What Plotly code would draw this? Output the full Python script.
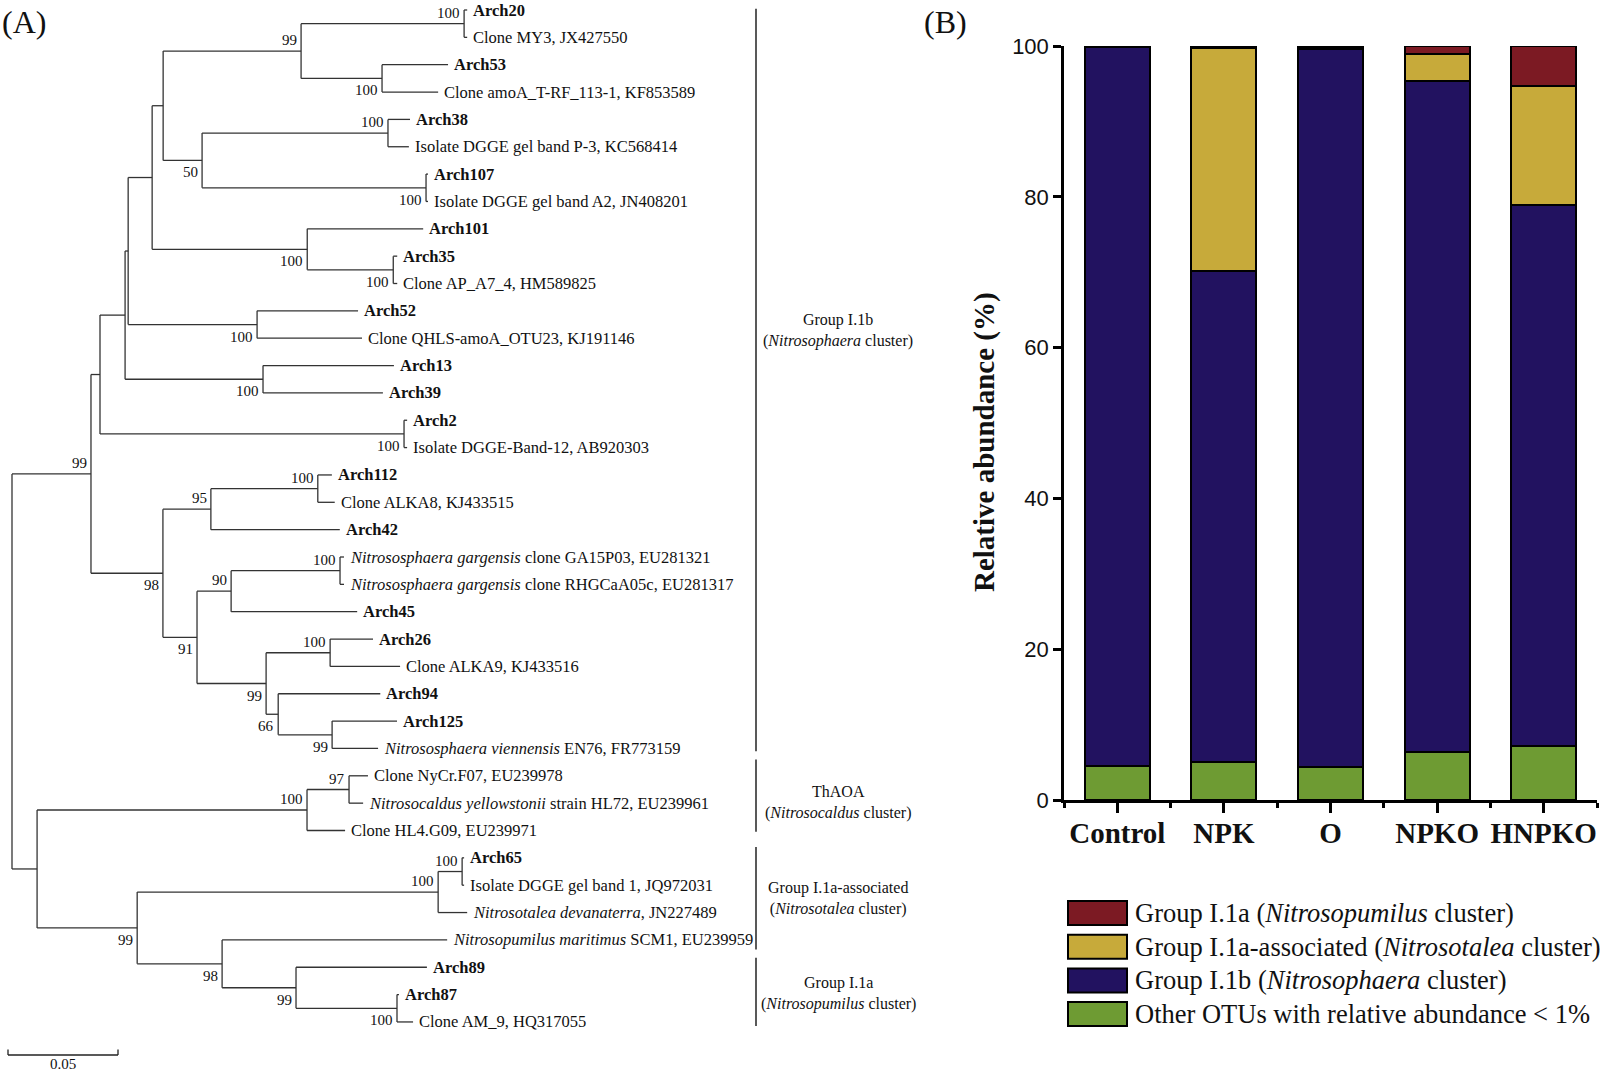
import plotly.graph_objects as go

# ---------------- data: panel A (phylogenetic tree) ----------------
TREE_NEWICK = (
    "(((((((((Arch20:0.0014,MY3:0.0014)100:0.0741,(Arch53:0.0300,amoA:0.0255)100:0.0368)99:0.0627,"
    "((Arch38:0.0100,P3:0.0095)100:0.0845,(Arch107:0.0009,A2:0.0009)100:0.1018)50:0.0177):0.0050,"
    "(Arch101:0.0527,(Arch35:0.0018,AP:0.0018)100:0.0391)100:0.0705):0.0109,"
    "(Arch52:0.0459,QHLS:0.0477)100:0.0586):0.0014,"
    "(Arch13:0.0595,Arch39:0.0545)100:0.0627):0.0114,"
    "(Arch2:0.0014,B12:0.0014)100:0.1382):0.0041,"
    "(((Arch112:0.0064,ALKA8:0.0077)100:0.0486,Arch42:0.0586)95:0.0218,"
    "(((GA15:0.0018,RHG:0.0018)100:0.0495,Arch45:0.0573)90:0.0155,"
    "((Arch26:0.0195,ALKA9:0.0318)100:0.0291,(Arch94:0.0464,(Arch125:0.0295,Nvien:0.0209)99:0.0245)66:0.0055)99:0.0314)91:0.0155)98:0.0327)99:0.0359,"
    "(((NyCr:0.0086,Nyel:0.0064)97:0.0191,HL4:0.0173)100:0.1227,"
    "(((Arch65:0.0009,band1:0.0009)100:0.0109,Ndev:0.0132)100:0.1368,"
    "(Nmar:0.1023,(Arch89:0.0595,(Arch87:0.0009,AM9:0.0073)100:0.0459)99:0.0336)98:0.0386)99:0.0455):0.0114);"
)

TIP_LABELS = {
    "MY3": "Clone MY3, JX427550",
    "amoA": "Clone amoA_T-RF_113-1, KF853589",
    "P3": "Isolate DGGE gel band P-3, KC568414",
    "A2": "Isolate DGGE gel band A2, JN408201",
    "AP": "Clone AP_A7_4, HM589825",
    "QHLS": "Clone QHLS-amoA_OTU23, KJ191146",
    "B12": "Isolate DGGE-Band-12, AB920303",
    "ALKA8": "Clone ALKA8, KJ433515",
    "GA15": "<i>Nitrososphaera gargensis</i> clone GA15P03, EU281321",
    "RHG": "<i>Nitrososphaera gargensis</i> clone RHGCaA05c, EU281317",
    "ALKA9": "Clone ALKA9, KJ433516",
    "Nvien": "<i>Nitrososphaera viennensis</i> EN76, FR773159",
    "NyCr": "Clone NyCr.F07, EU239978",
    "Nyel": "<i>Nitrosocaldus yellowstonii</i> strain HL72, EU239961",
    "HL4": "Clone HL4.G09, EU239971",
    "band1": "Isolate DGGE gel band 1, JQ972031",
    "Ndev": "<i>Nitrosotalea devanaterra</i>, JN227489",
    "Nmar": "<i>Nitrosopumilus maritimus</i> SCM1, EU239959",
    "AM9": "Clone AM_9, HQ317055",
}

# placement of bootstrap values (preorder of labelled nodes): a = above, b = below
BOOT_SIDE = "a a a b b a b b b b b b b a a b a a b a b b a a b a a b b b".split()

CLADE_NAMES = ["Group I.1b<br>(<i>Nitrosophaera</i> cluster)",
               "ThAOA<br>(<i>Nitrosocaldus</i> cluster)",
               "Group I.1a-associated<br>(<i>Nitrosotalea</i> cluster)",
               "Group I.1a<br>(<i>Nitrosopumilus</i> cluster)"]
CLADE_ROWS = [(-0.05, 27.1), (27.4, 30.05), (30.6, 34.35), (34.65, 37.15)]
CLADE_LABEL_ROWS = [11.7, 28.98, 32.5, 35.96]
SCALE_LEN = 0.05

# ---------------- data: panel B (stacked bars) ----------------
CATEGORIES = ["Control", "NPK", "O", "NPKO", "HNPKO"]
OTHER_OTUS = [4.5, 5.0, 4.4, 6.4, 7.2]
GROUP_I1B = [95.4, 65.1, 95.2, 88.9, 71.7]
GROUP_I1A_ASSOC = [0.0, 29.6, 0.1, 3.6, 15.8]
GROUP_I1A = [0.1, 0.3, 0.3, 1.1, 5.3]
SERIES_NAMES = ["Group I.1a (<i>Nitrosopumilus</i> cluster)",
                "Group I.1a-associated (<i>Nitrosotalea</i> cluster)",
                "Group I.1b (<i>Nitrosophaera</i> cluster)",
                "Other OTUs with relative abundance &lt; 1%"]
SERIES_COLORS = ["#7C1A23", "#C7AA3A", "#221260", "#6E9B33"]

# ---------------- geometry helpers ----------------
W, H = 1600, 1076
U = 2200.0        # px per substitution unit
X0 = 12.0         # root px
ROW0, ROWH = 10.0, 27.35
SERIF = "Liberation Serif"
SANS = "Liberation Sans"


def pxx(x):
    return x / W


def pxy(y):
    return 1 - y / H


def parse_newick(s):
    s = s.strip().rstrip(";")
    pos = 0

    def node():
        nonlocal pos
        n = {"children": [], "name": "", "len": 0.0}
        if s[pos] == "(":
            pos += 1
            while True:
                n["children"].append(node())
                if s[pos] == ",":
                    pos += 1
                    continue
                pos += 1
                break
        st = pos
        while pos < len(s) and s[pos] not in ":,()":
            pos += 1
        n["name"] = s[st:pos]
        if pos < len(s) and s[pos] == ":":
            pos += 1
            st = pos
            while pos < len(s) and s[pos] not in ",()":
                pos += 1
            n["len"] = float(s[st:pos])
        return n

    return node()


tree = parse_newick(TREE_NEWICK)
counter = [0]


def layout(n, px_):
    n["x"] = px_ + n["len"]
    if n["children"]:
        for c in n["children"]:
            layout(c, n["x"])
        n["y"] = (n["children"][0]["y"] + n["children"][-1]["y"]) / 2
    else:
        n["y"] = counter[0]
        counter[0] += 1


layout(tree, 0.0)

xs, ys = [], []
tips, inner = [], []


def collect(n, parent_x):
    if parent_x is not None:
        xs.extend([parent_x, n["x"], None])
        ys.extend([n["y"], n["y"], None])
    if n["children"]:
        if n["name"]:
            inner.append(n)
        xs.extend([n["x"], n["x"], None])
        ys.extend([n["children"][0]["y"], n["children"][-1]["y"], None])
        for c in n["children"]:
            collect(c, n["x"])
    else:
        tips.append(n)


collect(tree, None)

fig = go.Figure()
fig.add_trace(go.Scatter(x=xs, y=ys, mode="lines", line=dict(color="#333333", width=1.3),
                         hoverinfo="skip", showlegend=False, xaxis="x", yaxis="y"))

ann = []
for t in tips:
    label = TIP_LABELS.get(t["name"], "<b>%s</b>" % t["name"])
    ann.append(dict(x=t["x"] + 4 / U, y=t["y"], xref="x", yref="y", text=label,
                    xanchor="left", yanchor="middle", showarrow=False,
                    font=dict(family=SERIF, size=16.5, color="#111")))
for n, side in zip(inner, BOOT_SIDE):
    dy = -0.40 if side == "a" else 0.44
    ann.append(dict(x=n["x"] - 2 / U, y=n["y"] + dy, xref="x", yref="y", text=n["name"],
                    xanchor="right", yanchor="middle", showarrow=False,
                    font=dict(family=SERIF, size=15, color="#111")))

shapes = []
bar_x = (756 - X0) / U
lab_x = (838 - X0) / U
for name, (r0, r1), lr in zip(CLADE_NAMES, CLADE_ROWS, CLADE_LABEL_ROWS):
    shapes.append(dict(type="line", xref="x", yref="y", x0=bar_x, x1=bar_x, y0=r0, y1=r1,
                       line=dict(color="#222", width=1.5)))
    ann.append(dict(x=lab_x, y=lr, xref="x", yref="y", text=name, xanchor="center",
                    yanchor="middle", showarrow=False,
                    font=dict(family=SERIF, size=16, color="#111")))

# scale bar
sb_x0 = (8 - X0) / U
sb_y = (1055 - ROW0) / ROWH
shapes.append(dict(type="line", xref="x", yref="y", x0=sb_x0, x1=sb_x0 + SCALE_LEN, y0=sb_y, y1=sb_y,
                   line=dict(color="#222", width=1.3)))
for xx in (sb_x0, sb_x0 + SCALE_LEN):
    shapes.append(dict(type="line", xref="x", yref="y", x0=xx, x1=xx, y0=sb_y, y1=sb_y - 0.2,
                       line=dict(color="#222", width=1.3)))
ann.append(dict(x=sb_x0 + SCALE_LEN / 2, y=(1064 - ROW0) / ROWH, xref="x", yref="y", text=str(SCALE_LEN),
                showarrow=False, xanchor="center", yanchor="middle",
                font=dict(family=SERIF, size=15, color="#111")))

# panel letters
ann.append(dict(x=pxx(0), y=pxy(22), xref="paper", yref="paper", text="(A)", showarrow=False,
                xanchor="left", yanchor="middle", font=dict(family=SERIF, size=32, color="#111")))
ann.append(dict(x=pxx(922), y=pxy(22), xref="paper", yref="paper", text="(B)", showarrow=False,
                xanchor="left", yanchor="middle", font=dict(family=SERIF, size=32, color="#111")))

# ---------------- panel B bars ----------------
xpos = list(range(len(CATEGORIES)))
stack = [OTHER_OTUS, GROUP_I1B, GROUP_I1A_ASSOC, GROUP_I1A]
stack_colors = [SERIES_COLORS[3], SERIES_COLORS[2], SERIES_COLORS[1], SERIES_COLORS[0]]
stack_names = [SERIES_NAMES[3], SERIES_NAMES[2], SERIES_NAMES[1], SERIES_NAMES[0]]
for vals, col, nm in zip(stack, stack_colors, stack_names):
    fig.add_trace(go.Bar(x=xpos, y=vals, name=nm, width=0.61,
                         marker=dict(color=col, line=dict(color="black", width=2)),
                         xaxis="x2", yaxis="y2", showlegend=False, hoverinfo="skip"))

# legend (drawn)
for i, (nm, col) in enumerate(zip(SERIES_NAMES, SERIES_COLORS)):
    cy = 913 + i * 33.7
    shapes.append(dict(type="rect", xref="paper", yref="paper", x0=pxx(1068), x1=pxx(1127),
                       y0=pxy(cy - 12), y1=pxy(cy + 12), fillcolor=col,
                       line=dict(color="black", width=2)))
    ann.append(dict(x=pxx(1133), y=pxy(cy), xref="paper", yref="paper", text=nm, showarrow=False,
                    xanchor="left", yanchor="middle", font=dict(family=SERIF, size=26.5, color="#111")))

ann.append(dict(x=pxx(985), y=pxy(442), xref="paper", yref="paper",
                text="<b>Relative abundance (%)</b>", textangle=-90, showarrow=False,
                xanchor="center", yanchor="middle", font=dict(family=SERIF, size=29, color="#111")))

fig.update_layout(
    width=W, height=H, margin=dict(l=0, r=0, t=0, b=0, pad=0, autoexpand=False), autosize=False,
    paper_bgcolor="white", plot_bgcolor="white", barmode="stack", showlegend=False,
    xaxis=dict(domain=[0, 0.6], range=[-X0 / U, (0.6 * W - X0) / U], visible=False, automargin=False),
    yaxis=dict(domain=[0, 1], range=[(H - ROW0) / ROWH, -ROW0 / ROWH], visible=False, automargin=False),
    xaxis2=dict(domain=[pxx(1064), pxx(1597)], range=[-0.5, 4.5], anchor="y2", automargin=False,
                tickmode="array", tickvals=xpos, ticktext=["<b>%s</b>" % c for c in CATEGORIES],
                ticks="outside", ticklen=10, tickwidth=2.5, tickcolor="black", ticklabelstandoff=-5,
                minor=dict(tick0=-0.5, dtick=1, ticks="outside", ticklen=5, tickwidth=2.5, tickcolor="black"),
                showline=True, linewidth=2.5, linecolor="black", showgrid=False, zeroline=False,
                tickfont=dict(family=SERIF, size=29, color="#111")),
    yaxis2=dict(domain=[pxy(800), pxy(46)], range=[0, 100], anchor="x2", automargin=False,
                tickmode="array", tickvals=[0, 20, 40, 60, 80, 100],
                ticks="outside", ticklen=8, tickwidth=2.5, tickcolor="black",
                showline=True, linewidth=2.5, linecolor="black", showgrid=False, zeroline=False,
                tickfont=dict(family=SANS, size=22, color="#111")),
    annotations=ann, shapes=shapes,
)

fig.write_html("out.html", config={"responsive": False, "displayModeBar": False},
               post_script="document.body.style.margin='0px';document.body.style.padding='0px';"
                           "document.documentElement.style.overflow='hidden';")
